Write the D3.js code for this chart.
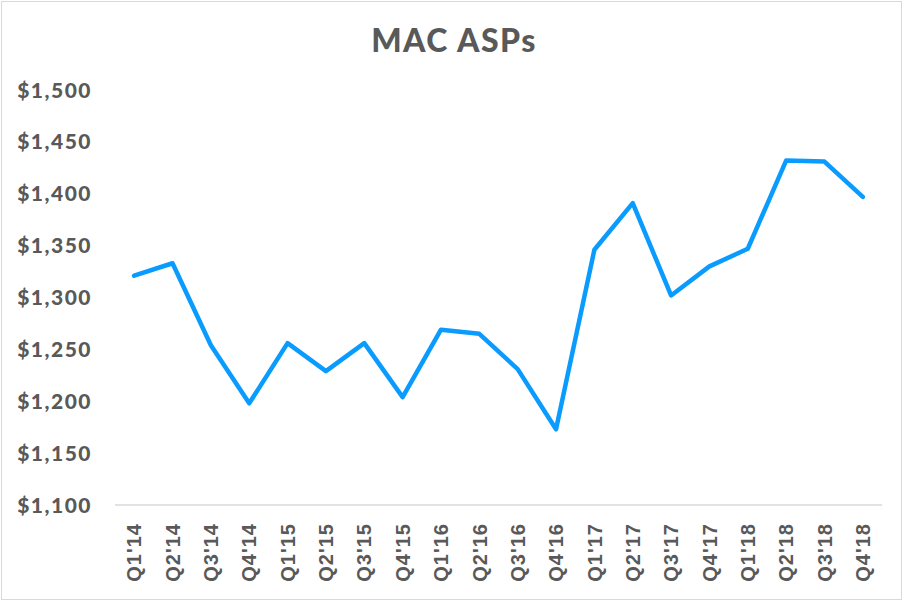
<!DOCTYPE html>
<html>
<head>
<meta charset="utf-8">
<script src="https://cdn.jsdelivr.net/npm/d3@7"></script>
<style>
  body { margin: 0; background: #fff; }
  text { font-weight: bold; fill: #595959; }
  .title { font-family: "Lato", "Open Sans", sans-serif; font-weight: 900; }
  .ylab { font-family: "Lato", "Open Sans", sans-serif; font-weight: 900; }
  .xlab { font-family: "Liberation Sans", Arial, sans-serif; }
</style>
</head>
<body>
<div id="chart"></div>
<script>
// quarters on the x axis
var quarters = ["Q1'14","Q2'14","Q3'14","Q4'14","Q1'15","Q2'15","Q3'15","Q4'15",
                "Q1'16","Q2'16","Q3'16","Q4'16","Q1'17","Q2'17","Q3'17","Q4'17",
                "Q1'18","Q2'18","Q3'18","Q4'18"];
// average selling price, dollars
var asp = [1321, 1333, 1254, 1198, 1256, 1229, 1256, 1204,
           1269, 1265, 1231, 1173, 1346, 1391, 1302, 1330,
           1347, 1432, 1431, 1397];
var yTicks = [1100, 1150, 1200, 1250, 1300, 1350, 1400, 1450, 1500];

var width = 904, height = 602;
var margin = {top: 90, right: 22, bottom: 97, left: 115};

var svg = d3.select("#chart").append("svg")
    .attr("width", width)
    .attr("height", height);

// outer frame
svg.append("rect")
    .attr("x", 1.5).attr("y", 1.5)
    .attr("width", width - 4).attr("height", height - 4)
    .attr("fill", "#fff")
    .attr("stroke", "#d9d9d9");

var x = d3.scaleBand()
    .domain(quarters)
    .range([margin.left, width - margin.right]);

var y = d3.scaleLinear()
    .domain([1100, 1500])
    .range([height - margin.bottom, margin.top]);

// title
svg.append("text")
    .attr("class", "title")
    .attr("x", width / 2 + 2)
    .attr("y", 52)
    .attr("text-anchor", "middle")
    .style("font-size", "32px")
    .style("letter-spacing", "1.5px")
    .text("MAC ASPs");

// y axis labels
var fmt = d3.format(",");
svg.append("g")
    .selectAll("text")
    .data(yTicks)
    .enter().append("text")
        .attr("class", "ylab")
        .attr("x", 92)
        .attr("y", function(d) { return y(d); })
        .attr("dy", "0.36em")
        .attr("text-anchor", "end")
        .style("font-size", "21px")
        .style("letter-spacing", "1.5px")
        .text(function(d) { return "$" + fmt(d); });

// baseline
svg.append("line")
    .attr("x1", margin.left).attr("x2", width - margin.right)
    .attr("y1", y(1100)).attr("y2", y(1100))
    .attr("stroke", "#d9d9d9")
    .attr("stroke-width", 1.5);

// x axis labels, rotated
svg.append("g")
    .selectAll("text")
    .data(quarters)
    .enter().append("text")
        .attr("class", "xlab")
        .attr("transform", function(d) {
            return "translate(" + (x(d) + x.bandwidth() / 2) + "," + (y(1100) + 18) + ") rotate(-90)";
        })
        .attr("dy", "0.36em")
        .attr("text-anchor", "end")
        .style("font-size", "20px")
        .style("letter-spacing", "1px")
        .text(function(d) { return d; });

var line = d3.line()
    .x(function(d, i) { return x(quarters[i]) + x.bandwidth() / 2; })
    .y(function(d) { return y(d); });

svg.append("path")
    .datum(asp)
    .attr("fill", "none")
    .attr("stroke", "#0a9bff")
    .attr("stroke-width", 4.5)
    .attr("stroke-linejoin", "round")
    .attr("stroke-linecap", "round")
    .attr("d", line);
</script>
</body>
</html>
